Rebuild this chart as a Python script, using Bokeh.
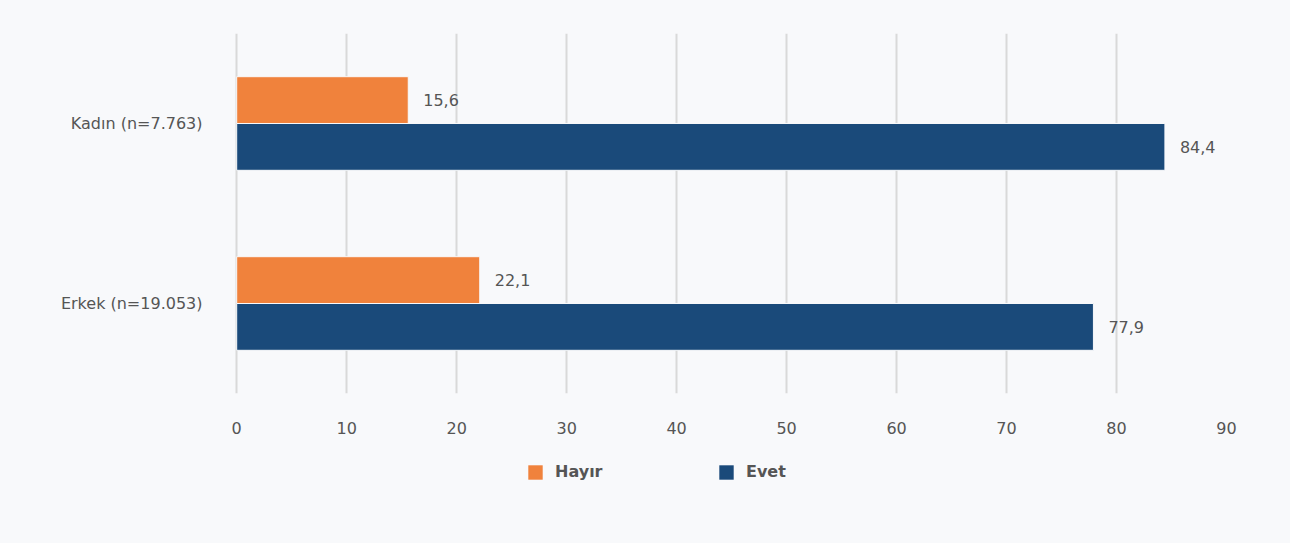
from bokeh.plotting import figure
from bokeh.models import ColumnDataSource, Range1d, FixedTicker, Legend, LegendItem, LabelSet
from bokeh.layouts import column
from bokeh.core.properties import value
from bokeh.embed import file_html
from bokeh.resources import INLINE

categories = ["Erkek (n=19.053)", "Kadın (n=7.763)"]
hayir = [22.1, 15.6]
evet = [77.9, 84.4]
series_names = ["Hayır", "Evet"]
colors = ["#f0823c", "#1a4a7a"]
ticks = [0, 10, 20, 30, 40, 50, 60, 70, 80, 90]

FONT = "DejaVu Sans"
TXT = "#555555"
FS = "16px"
BG = "#f8f9fb"

pos = [0.5, 1.5]
src_h = ColumnDataSource(dict(y=[p + 0.13 for p in pos], v=hayir,
                              lab=[f"{v:.1f}".replace(".", ",") for v in hayir]))
src_e = ColumnDataSource(dict(y=[p - 0.13 for p in pos], v=evet,
                              lab=[f"{v:.1f}".replace(".", ",") for v in evet]))

p = figure(width=1290, height=440, output_backend="svg", toolbar_location=None,
           x_range=Range1d(-0.2, 90), y_range=Range1d(0, 2),
           min_border_left=234, min_border_right=64, min_border_top=33, min_border_bottom=47)
p.background_fill_color = BG
p.border_fill_color = BG
p.outline_line_color = None

p.hbar(y="y", right="v", left=0, height=0.26, source=src_h, fill_color=colors[0],
       line_color=BG, line_width=1)
p.hbar(y="y", right="v", left=0, height=0.26, source=src_e, fill_color=colors[1],
       line_color=BG, line_width=1)

for s in (src_h, src_e):
    p.add_layout(LabelSet(x="v", y="y", text="lab", source=s, x_offset=15, y_offset=0,
                          text_baseline="middle", text_align="left",
                          text_font=value(FONT), text_font_size=FS, text_color=TXT))

p.xaxis.ticker = FixedTicker(ticks=ticks)
p.xaxis.axis_line_color = None
p.xaxis.major_tick_line_color = None
p.xaxis.minor_tick_line_color = None
p.xaxis.major_label_standoff = 22
p.xaxis.major_label_text_font = FONT
p.xaxis.major_label_text_font_size = FS
p.xaxis.major_label_text_color = TXT

p.yaxis.ticker = FixedTicker(ticks=pos)
p.yaxis.major_label_overrides = {pos[i]: categories[i] for i in range(2)}
p.yaxis.axis_line_color = None
p.yaxis.major_tick_line_color = None
p.yaxis.minor_tick_line_color = None
p.yaxis.major_label_standoff = 26
p.yaxis.major_label_text_font = FONT
p.yaxis.major_label_text_font_size = FS
p.yaxis.major_label_text_color = TXT

p.xgrid.grid_line_color = "#d9d9d9"
p.xgrid.grid_line_width = 2
p.ygrid.grid_line_color = None

# legend strip (separate figure so the legend is not clipped)
q = figure(width=1290, height=103, output_backend="svg", toolbar_location=None,
           x_range=Range1d(1000, 1001), y_range=Range1d(100, 101),
           min_border_left=0, min_border_right=0, min_border_top=0, min_border_bottom=0)
q.axis.visible = False
q.grid.visible = False
q.background_fill_color = BG
q.border_fill_color = BG
q.outline_line_color = None
lh = q.hbar(y="y", right="v", left=0, height=0.26, source=src_h, fill_color=colors[0],
            line_color=None)
le = q.hbar(y="y", right="v", left=0, height=0.26, source=src_e, fill_color=colors[1],
            line_color=None)

legend = Legend(items=[LegendItem(label=series_names[0], renderers=[lh]),
                       LegendItem(label=series_names[1], renderers=[le])],
                location=(292, 62), orientation="horizontal",
                glyph_width=18, glyph_height=18, label_standoff=11, label_width=162,
                spacing=0, padding=0, margin=0, background_fill_alpha=0,
                border_line_color=None, label_text_font=FONT, label_text_font_size=FS,
                label_text_font_style="bold", label_text_color=TXT)
q.add_layout(legend)

layout = column(p, q, spacing=0, styles={"background-color": BG})
open("out.html", "w").write(file_html(layout, INLINE))
